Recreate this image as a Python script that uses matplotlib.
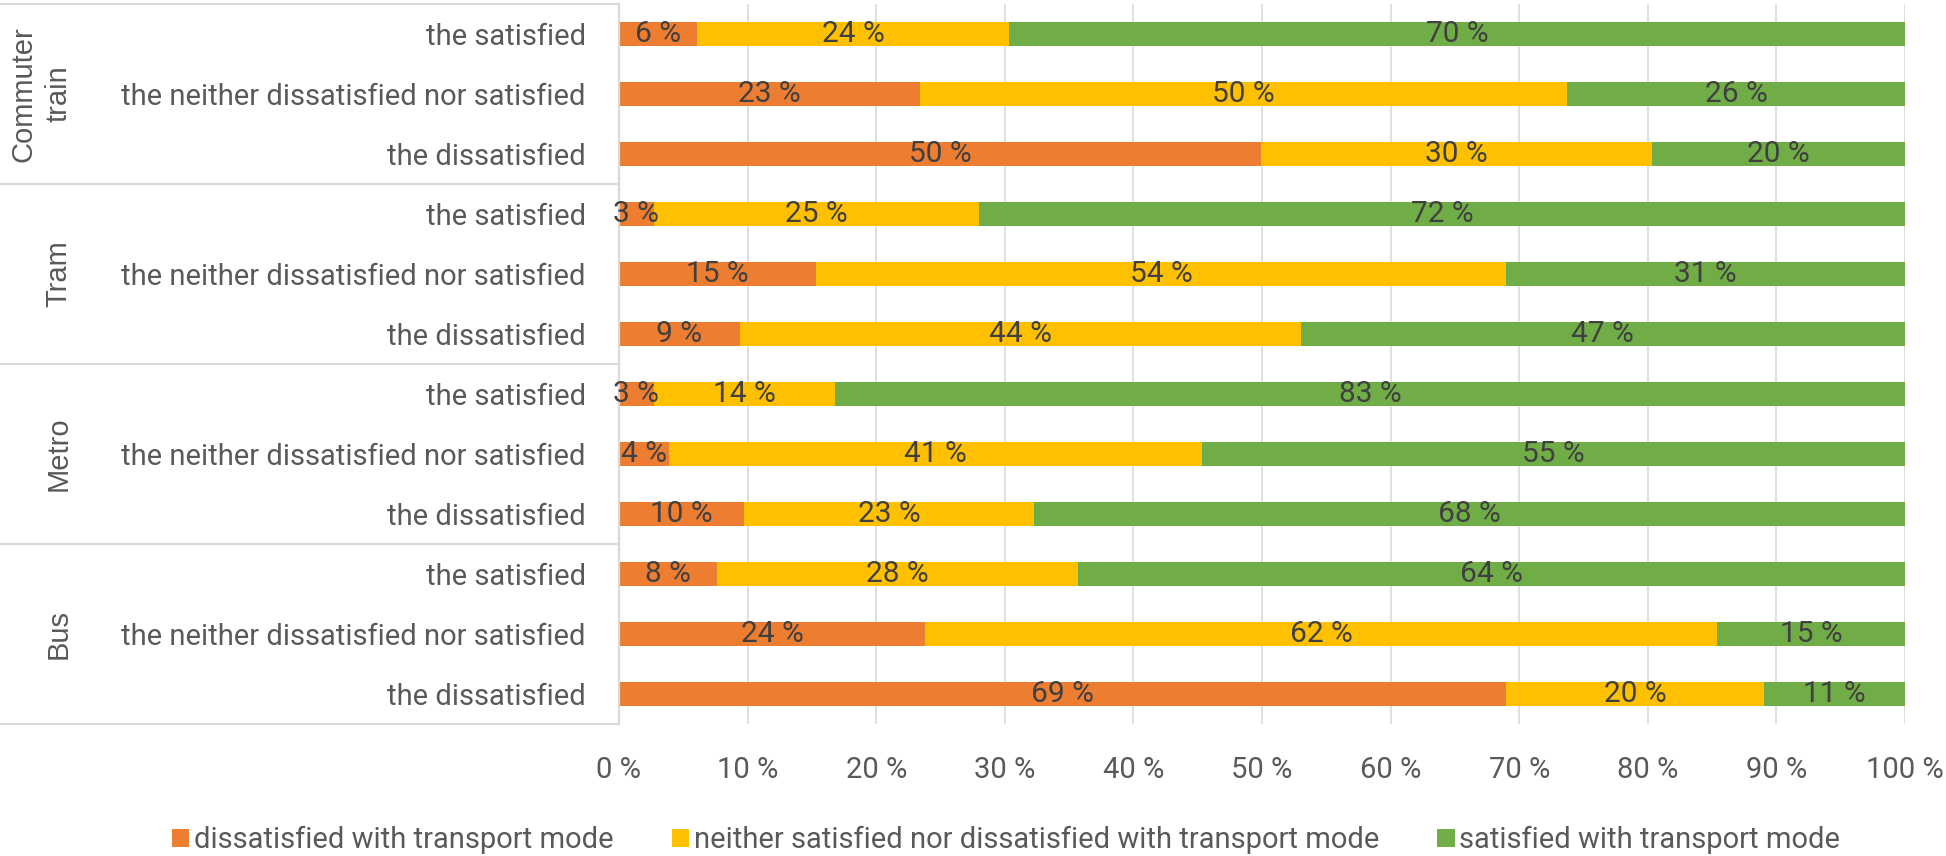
import numpy as np
import matplotlib.pyplot as plt
import matplotlib.transforms as mtransforms

plt.rcParams['font.family'] = ['Roboto', 'DejaVu Sans']

# categorias
groups = ['Commuter\ntrain', 'Tram', 'Metro', 'Bus']
subgroups = ['the satisfied', 'the neither dissatisfied nor satisfied', 'the dissatisfied']
seriesNames = ['dissatisfied with transport mode',
               'neither satisfied nor dissatisfied with transport mode',
               'satisfied with transport mode']
# valores en %, filas de arriba hacia abajo
dissatisfied = [6.1, 23.4, 49.9, 2.7, 15.3, 9.4, 2.7, 3.9, 9.7, 7.6, 23.8, 69.0]
neither = [24.2, 50.3, 30.4, 25.3, 53.7, 43.6, 14.1, 41.4, 22.6, 28.1, 61.6, 20.0]
satisfied = [69.7, 26.3, 19.7, 72.0, 31.0, 47.0, 83.2, 54.7, 67.7, 64.3, 14.6, 11.0]
xticks = [0, 10, 20, 30, 40, 50, 60, 70, 80, 90, 100]

colores = ['#ED7D31', '#FFC000', '#70AD47']
gris = '#595959'
lineas = '#d9d9d9'
fs = 21

fig = plt.figure(figsize=(19.46, 8.56), dpi=100)
ax = fig.add_axes([619/1946, 1 - 724/856, 1286/1946, 720/856])

filas = np.arange(len(dissatisfied))
izq = np.zeros(len(filas))
for vals, nombre, col in zip([dissatisfied, neither, satisfied], seriesNames, colores):
    vals = np.array(vals)
    ax.barh(filas, vals, left=izq, height=0.41, color=col, label=nombre)
    for y, l, v in zip(filas, izq, vals):
        ax.text(l + v / 2, y, '%d %%' % round(v), ha='center', va='center',
                fontsize=fs + 0.5, color='#404040')
    izq = izq + vals

ax.set_xlim(0, 100)
ax.set_ylim(len(filas) - 0.5, -0.5)
ax.set_xticks(xticks)
ax.set_xticklabels(['%d %%' % t for t in xticks])
ax.set_yticks(filas)
ax.set_yticklabels(subgroups * len(groups))
ax.tick_params(axis='both', length=0, labelsize=fs, labelcolor=gris)
ax.tick_params(axis='y', pad=24)
ax.tick_params(axis='x', pad=23)
ax.xaxis.grid(True, color=lineas, linewidth=1.2)
ax.set_axisbelow(True)
for s in ['top', 'right', 'bottom']:
    ax.spines[s].set_visible(False)
ax.spines['left'].set_color(lineas)
ax.spines['left'].set_linewidth(1.6)

# etiquetas de grupo y separadores
trans = mtransforms.blended_transform_factory(ax.transAxes, ax.transData)
xcat = -619 / 1286
for i, g in enumerate(groups):
    ax.text(-0.425, 3 * i + 1, g, rotation=90, ha='right', va='center', transform=trans,
            multialignment='center', linespacing=1.3, fontsize=fs, color=gris,
            family=['Liberation Sans', 'DejaVu Sans'])
for b in np.arange(-0.5, len(filas), 3):
    ax.plot([xcat, 0], [b, b], transform=trans, clip_on=False, color=lineas, lw=1.6)

fig.legend(loc='center', bbox_to_anchor=(1006/1946, 1 - 840/856), ncol=3, frameon=False,
           fontsize=fs, handlelength=0.6, handleheight=0.6, handletextpad=0.15,
           columnspacing=2.0, labelcolor=gris)

fig.savefig('out.png', dpi=100)
